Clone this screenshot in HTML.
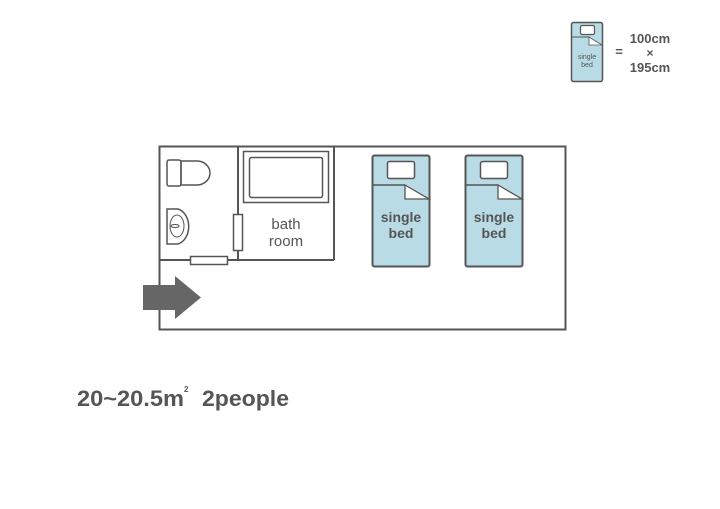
<!DOCTYPE html>
<html><head><meta charset="utf-8"><style>
html,body{margin:0;padding:0;background:#fff;width:720px;height:509px;overflow:hidden}
svg{display:block}
text{font-family:"Liberation Sans","DejaVu Sans",sans-serif;font-weight:bold;fill:#555}
text.n{font-weight:normal}
</style></head><body>
<svg width="720" height="509" viewBox="0 0 720 509" xmlns="http://www.w3.org/2000/svg">
<g fill="none" stroke="#555" stroke-width="2">
<rect x="159.5" y="146.5" width="406" height="183"/>
<line x1="238" y1="146" x2="238" y2="260"/>
<line x1="159" y1="260" x2="334" y2="260"/>
<line x1="334" y1="146" x2="334" y2="260"/>
<rect x="243.5" y="151.5" width="85" height="51" stroke-width="1.5"/>
<rect x="249.5" y="157.5" width="73" height="40" rx="2" stroke-width="1.5"/>
<rect x="167" y="160" width="14" height="26" rx="2" stroke-width="1.5"/>
<path d="M181 161h16a13 12 0 0 1 0 24h-16z" stroke-width="1.5"/>
<path d="M167 209h11a14 18 0 0 1 0 35h-11z" stroke-width="1.5"/>
<ellipse cx="177" cy="226" rx="7" ry="11" stroke-width="1"/>
<ellipse cx="175" cy="226" rx="4" ry="1.5" stroke-width="1"/>
<rect x="233.5" y="214.5" width="9" height="36" fill="#fff" stroke-width="1.5"/>
<rect x="190.5" y="256.5" width="37" height="8" fill="#fff" stroke-width="1.5"/>
</g>
<path d="M143 285h32v-9l26 21.5-26 21.5v-9h-32z" fill="#666"/>
<g id="bed">
<rect x="372.5" y="155.5" width="57" height="111" rx="2" fill="#b9dbe6" stroke="#555" stroke-width="2"/>
<rect x="387.5" y="161.5" width="27" height="17" rx="2" fill="#fff" stroke="#555" stroke-width="1.5"/>
<path d="M405 185L429 199H405Z" fill="#fff" stroke="#555" stroke-width="1.3"/>
<line x1="373" y1="185" x2="405" y2="185" stroke="#555" stroke-width="1.5"/>
<text x="401" y="222" font-size="14" text-anchor="middle">single</text>
<text x="401" y="238" font-size="14" text-anchor="middle">bed</text>
</g>
<use href="#bed" x="93"/>
<rect x="571.5" y="22.5" width="31" height="59" rx="2" fill="#b9dbe6" stroke="#555" stroke-width="1.5"/>
<rect x="580.5" y="25.5" width="14" height="9" rx="1.5" fill="#fff" stroke="#555" stroke-width="1.2"/>
<line x1="572" y1="37" x2="589" y2="37" stroke="#555" stroke-width="1"/>
<path d="M589 37L602 45H589Z" fill="#fff" stroke="#555" stroke-width="0.8"/>
<text class="n" x="587" y="59" font-size="7" text-anchor="middle">single</text>
<text class="n" x="587" y="67" font-size="7" text-anchor="middle">bed</text>
<text x="619" y="56" font-size="13" text-anchor="middle">=</text>
<text x="650" y="43" font-size="13" text-anchor="middle">100cm</text>
<text x="650" y="57" font-size="12" text-anchor="middle">×</text>
<text x="650" y="72" font-size="13" text-anchor="middle">195cm</text>
<text class="n" x="286" y="229" font-size="15" text-anchor="middle">bath</text>
<text class="n" x="286" y="246" font-size="15" text-anchor="middle">room</text>
<text x="77" y="406" font-size="22" textLength="107" lengthAdjust="spacingAndGlyphs">20~20.5m</text>
<text x="184" y="392" font-size="8">2</text>
<text x="202" y="406" font-size="22" textLength="87" lengthAdjust="spacingAndGlyphs">2people</text>
</svg>
</body></html>
